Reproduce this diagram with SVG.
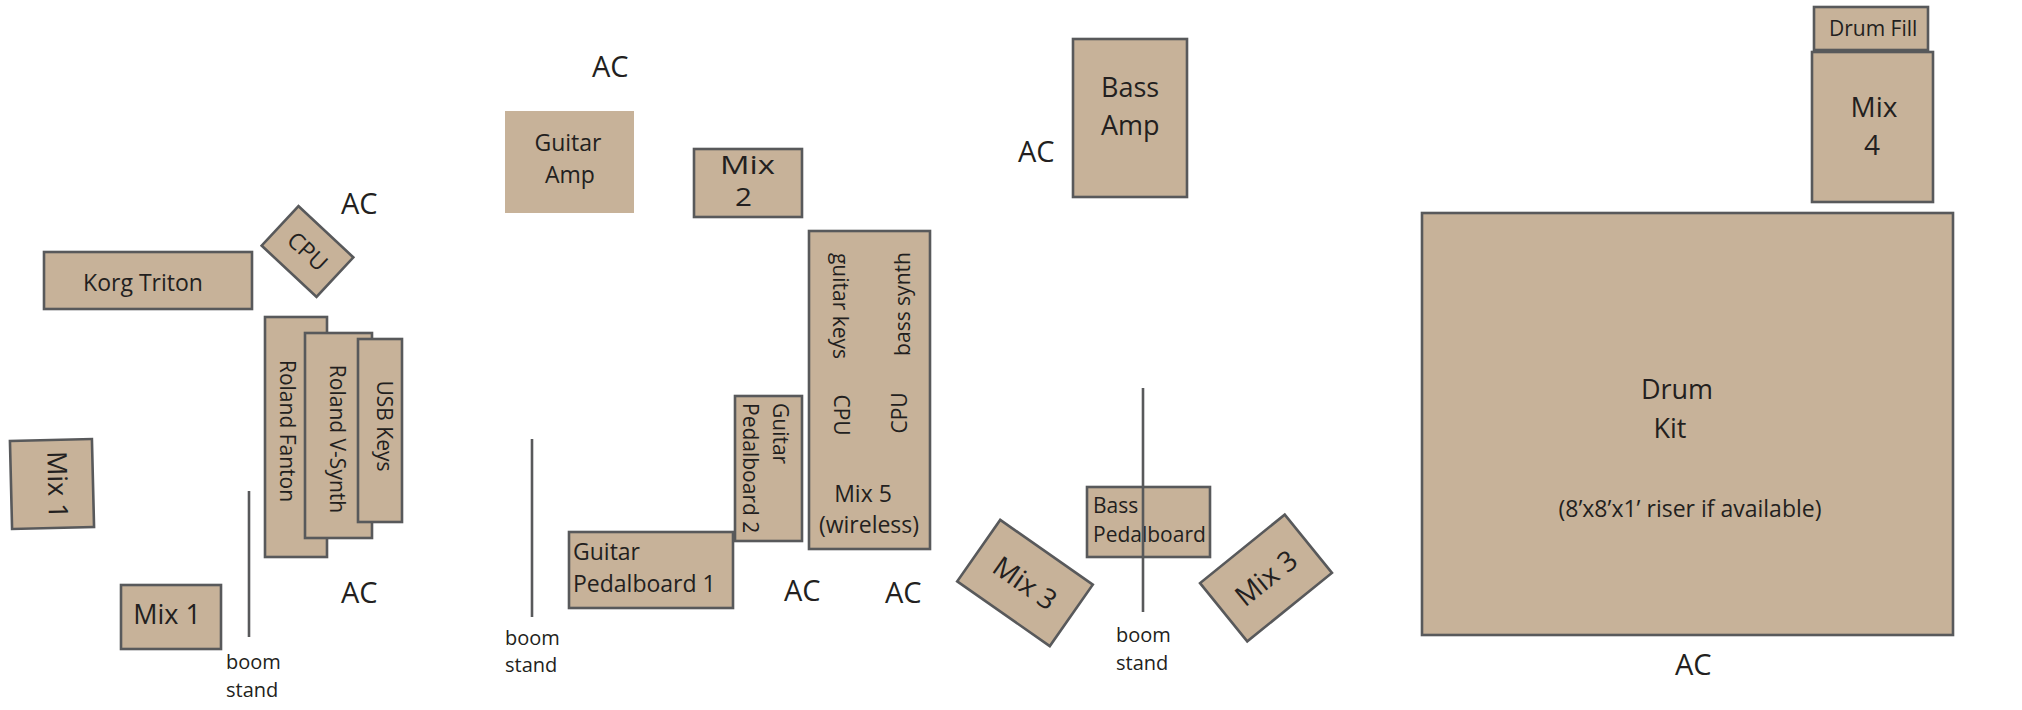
<svg xmlns="http://www.w3.org/2000/svg" width="2022" height="710" viewBox="0 0 2022 710">
<style>
.box{fill:#C7B299;stroke:#58595B;stroke-width:2.6}
.plain{fill:#C7B299}
.stand{stroke:#58595B;stroke-width:2.6}
text{font-family:"Open Sans","Noto Sans","Liberation Sans",sans-serif;fill:#231F20}
.ac{font-size:29px}
.t21{font-size:21px}
.t23{font-size:23px}
.t27{font-size:27px}
.mid{text-anchor:middle}
</style>
<rect width="2022" height="710" fill="#ffffff"/>

<g id="ac-labels">
<text class="ac" x="341" y="214">AC</text>
<text class="ac" x="341" y="603">AC</text>
<text class="ac" x="592" y="77">AC</text>
<text class="ac" x="784" y="601">AC</text>
<text class="ac" x="885" y="603">AC</text>
<text class="ac" x="1018" y="162">AC</text>
<text class="ac" x="1675" y="675">AC</text>
</g>

<g id="korg-triton">
<rect class="box" x="44" y="252" width="208" height="57"/>
<text class="t23 mid" x="143" y="291">Korg Triton</text>
</g>

<g id="cpu-keys" transform="translate(307.5,251.5) rotate(43)">
<rect class="box" x="-37.5" y="-27" width="75" height="54"/>
<text class="mid" style="font-size:23px" x="0" y="8">CPU</text>
</g>

<g id="roland-fanton">
<rect class="box" x="265" y="317" width="62" height="240"/>
<text class="t21 mid" transform="translate(280,431) rotate(90)">Roland Fanton</text>
</g>

<g id="roland-v-synth">
<rect class="box" x="305" y="333" width="67" height="205"/>
<text class="t21 mid" transform="translate(330,439) rotate(90)">Roland V-Synth</text>
</g>

<g id="usb-keys">
<rect class="box" x="358" y="339" width="44" height="183"/>
<text class="t21 mid" transform="translate(377,426) rotate(90)">USB Keys</text>
</g>

<g id="mix1-side" transform="translate(52,484) rotate(-1.4)">
<rect class="box" x="-41" y="-44" width="82" height="88"/>
<text class="t27 mid" transform="translate(-4,1) rotate(90)">Mix 1</text>
</g>

<g id="mix1-front">
<rect class="box" x="121" y="585" width="100" height="64"/>
<text class="t27 mid" x="167" y="624">Mix 1</text>
</g>

<g id="boom-stand-1">
<line class="stand" x1="249" y1="491" x2="249" y2="637"/>
<text style="font-size:20px" x="226" y="669">boom</text>
<text style="font-size:20px" x="226" y="697">stand</text>
</g>

<g id="guitar-amp">
<rect class="plain" x="505" y="111" width="129" height="102"/>
<text class="t23 mid" x="568" y="151">Guitar</text>
<text class="t23 mid" x="570" y="183">Amp</text>
</g>

<g id="mix2">
<rect class="box" x="694" y="149" width="108" height="68"/>
<text style="font-size:25px" x="720" y="174" textLength="55" lengthAdjust="spacingAndGlyphs">Mix</text>
<text style="font-size:25px" x="735" y="206" textLength="17" lengthAdjust="spacingAndGlyphs">2</text>
</g>

<g id="mix5">
<rect class="box" x="809" y="231" width="121" height="318"/>
<text class="t21 mid" transform="translate(833,306) rotate(90)">guitar keys</text>
<text class="t21 mid" transform="translate(910,304) rotate(-90)">bass synth</text>
<text class="t21 mid" transform="translate(834,415) rotate(90)">CPU</text>
<text class="t21 mid" transform="translate(907,413) rotate(-90)">CPU</text>
<text class="t23 mid" x="863" y="502">Mix 5</text>
<text class="t23 mid" x="869" y="533">(wireless)</text>
</g>

<g id="guitar-pedalboard-2">
<rect class="box" x="735" y="396" width="67" height="145"/>
<text class="t21" transform="translate(773,403) rotate(90)"><tspan x="0" y="0">Guitar</tspan><tspan x="0" y="30">Pedalboard 2</tspan></text>
</g>

<g id="guitar-pedalboard-1">
<rect class="box" x="569" y="532" width="164" height="76"/>
<text class="t23" x="573" y="560">Guitar</text>
<text class="t23" x="573" y="592">Pedalboard 1</text>
</g>

<g id="boom-stand-2">
<line class="stand" x1="532" y1="439" x2="532" y2="617"/>
<text style="font-size:20px" x="505" y="645">boom</text>
<text style="font-size:20px" x="505" y="672">stand</text>
</g>

<g id="bass-amp">
<rect class="box" x="1073" y="39" width="114" height="158"/>
<text class="t27" x="1101" y="97">Bass</text>
<text class="t27" x="1101" y="135">Amp</text>
</g>

<g id="bass-pedalboard">
<rect class="box" x="1087" y="487" width="123" height="70"/>
<text class="t21" x="1093" y="513">Bass</text>
<text class="t21" x="1093" y="542">Pedalboard</text>
</g>

<g id="boom-stand-3">
<line class="stand" x1="1143" y1="388" x2="1143" y2="612"/>
<text style="font-size:20px" x="1116" y="642">boom</text>
<text style="font-size:20px" x="1116" y="670">stand</text>
</g>

<g id="mix3-left" transform="translate(1025,583) rotate(35)">
<rect class="box" x="-56.5" y="-37.5" width="113" height="75"/>
<text class="mid" style="font-size:28px" x="0" y="10">Mix 3</text>
</g>

<g id="mix3-right" transform="translate(1266,578) rotate(-39)">
<rect class="box" x="-54.5" y="-37.5" width="109" height="75"/>
<text class="mid" style="font-size:28px" x="0" y="10">Mix 3</text>
</g>

<g id="drum-fill">
<rect class="box" x="1814" y="7" width="114" height="43"/>
<text class="t21" x="1829" y="36">Drum Fill</text>
</g>

<g id="mix4">
<rect class="box" x="1812" y="52" width="121" height="150"/>
<text class="mid" style="font-size:28px" x="1874" y="117">Mix</text>
<text class="mid" style="font-size:28px" x="1872" y="155">4</text>
</g>

<g id="drum-kit">
<rect class="box" x="1422" y="213" width="531" height="422"/>
<text class="t27 mid" x="1677" y="399">Drum</text>
<text class="t27 mid" x="1670" y="438">Kit</text>
<text class="t23 mid" x="1690" y="517">(8’x8’x1’ riser if available)</text>
</g>
</svg>
